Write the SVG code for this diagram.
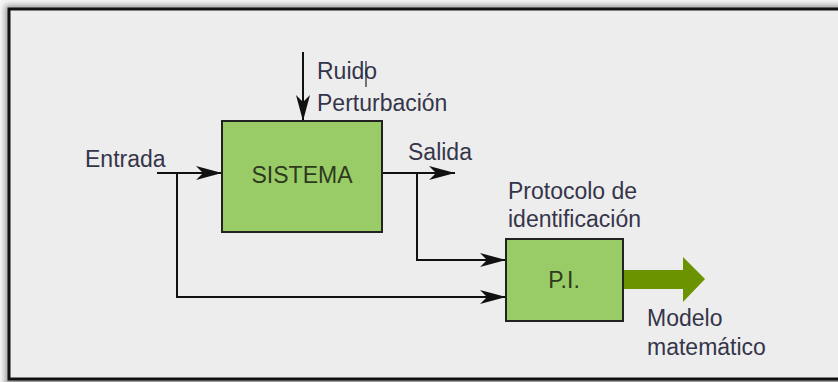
<svg xmlns="http://www.w3.org/2000/svg" width="838" height="382" viewBox="0 0 838 382">
<style>
.lbl{font-family:"Liberation Sans",Arial,sans-serif;font-size:23px;fill:#35354a}
.box{fill:#99cc66;stroke:#222;stroke-width:2}
.ttl{font-family:"Liberation Sans",Arial,sans-serif;font-size:23px;fill:#2e3a1e;text-anchor:middle}
.con{fill:none;stroke:#111;stroke-width:2}
</style>
<defs>
<marker id="ah" markerUnits="userSpaceOnUse" markerWidth="28" markerHeight="16" refX="26" refY="8" orient="auto">
<path d="M0,1 L26,8 L0,15 L7,8 z" fill="#111"/>
</marker>
<filter id="sh" x="-5%" y="-5%" width="110%" height="110%"><feGaussianBlur stdDeviation="3"/></filter>
</defs>
<rect x="0" y="0" width="838" height="382" fill="#f7f7f7"/>
<rect x="5" y="5" width="950" height="385" fill="#9a9a9a" filter="url(#sh)"/>
<rect x="9" y="9" width="940" height="370" fill="#ededed" stroke="#111" stroke-width="3"/>
<g id="connectors">
<path class="con" d="M303,52 V121" marker-end="url(#ah)"/>
<path class="con" d="M157,173 H222" marker-end="url(#ah)"/>
<path class="con" d="M177,173 V297 H506" marker-end="url(#ah)"/>
<path class="con" d="M382,173 H455" marker-end="url(#ah)"/>
<path class="con" d="M417,173 V260 H506" marker-end="url(#ah)"/>
<path d="M623,270 H683 V257 L705,279 L683,302 V289 H623 z" fill="#6b9300"/>
</g>
<g id="sistema">
<rect class="box" x="222" y="121" width="160" height="111"/>
<text class="ttl" x="302" y="183">SISTEMA</text>
</g>
<g id="pi">
<rect class="box" x="506" y="239" width="117" height="82"/>
<text class="ttl" x="564" y="288">P.I.</text>
</g>
<g id="labels">
<text class="lbl" x="317" y="79">Ruido</text>
<line x1="366" y1="61" x2="366" y2="87" stroke="#222" stroke-width="1.2"/>
<text class="lbl" x="317" y="111">Perturbación</text>
<text class="lbl" x="85" y="167">Entrada</text>
<text class="lbl" x="408" y="160">Salida</text>
<text class="lbl" x="508" y="199">Protocolo de</text>
<text class="lbl" x="508" y="227">identificación</text>
<text class="lbl" x="647" y="326">Modelo</text>
<text class="lbl" x="647" y="355">matemático</text>
</g>
</svg>
